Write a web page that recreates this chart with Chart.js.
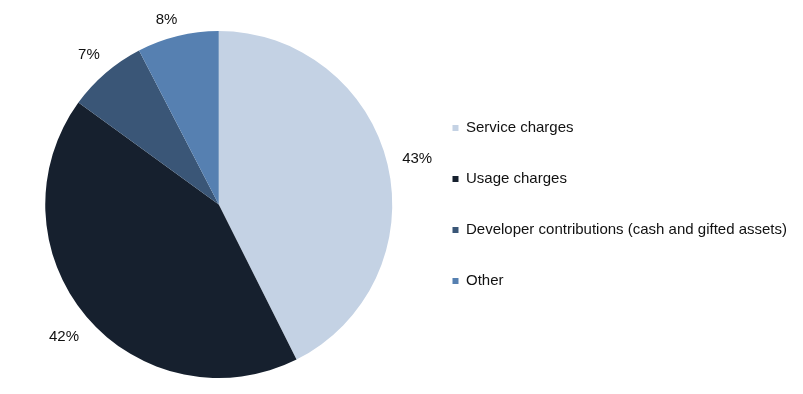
<!DOCTYPE html>
<html>
<head>
<meta charset="utf-8">
<script src="https://cdn.jsdelivr.net/npm/chart.js@4/dist/chart.umd.min.js"></script>
<style>
  html, body { margin: 0; padding: 0; background: #fff; }
  #wrap { width: 803px; height: 394px; position: relative; }
</style>
</head>
<body>
<div id="wrap"><canvas id="c" width="803" height="394"></canvas></div>
<script>
const categories = ['Service charges', 'Usage charges', 'Developer contributions (cash and gifted assets)', 'Other'];
const shares = [42.6, 42.4, 7.4, 7.6];
const colors = ['#C4D2E4', '#16202E', '#3A5677', '#5680B1'];

const FONT = '"Liberation Sans", Arial, sans-serif';

const outsideLabels = {
  id: 'outsideLabels',
  afterDatasetsDraw(chart) {
    const ctx = chart.ctx;
    const meta = chart.getDatasetMeta(0);
    const data = chart.data.datasets[0].data;
    const total = data.reduce((a, b) => a + b, 0);
    const minY = chart.chartArea.top - 12;
    ctx.save();
    ctx.font = '15px ' + FONT;
    ctx.fillStyle = '#111';
    ctx.textAlign = 'center';
    ctx.textBaseline = 'alphabetic';
    meta.data.forEach((arc, i) => {
      const p = arc.getProps(['x', 'y', 'startAngle', 'endAngle', 'outerRadius'], true);
      const mid = (p.startAngle + p.endAngle) / 2;
      const txt = Math.round(data[i] / total * 100) + '%';
      const hw = ctx.measureText(txt).width / 2;
      const hh = 5.5;
      const c = Math.cos(mid), s = Math.sin(mid);
      const r = p.outerRadius + 14.5 + hw * Math.abs(c) + hh * Math.abs(s);
      let x = p.x + c * r, y = p.y + s * r;
      if (y < minY) { x -= (minY - y) * 1.2; y = minY; }
      ctx.fillText(txt, x, y + 5.4);
    });
    ctx.restore();
  }
};

new Chart(document.getElementById('c'), {
  type: 'pie',
  data: {
    labels: categories,
    datasets: [{
      data: shares,
      backgroundColor: colors,
      borderWidth: 0
    }]
  },
  options: {
    responsive: false,
    animation: false,
    layout: { padding: { left: 21, right: 6, top: 31, bottom: 16 } },
    plugins: {
      tooltip: { enabled: false },
      legend: {
        position: 'right',
        align: 'center',
        labels: {
          boxWidth: 6,
          boxHeight: 6,
          padding: 36,
          color: '#111',
          font: { size: 15, family: FONT }
        }
      }
    }
  },
  plugins: [outsideLabels]
});
</script>
</body>
</html>
